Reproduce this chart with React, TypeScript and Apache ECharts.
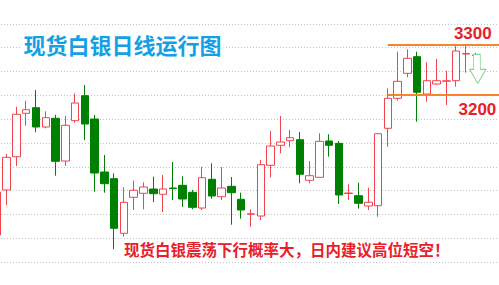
import React, { useEffect, useRef } from "react";
import * as echarts from "echarts";

// Daily silver K-line: [open, close, low, high] split into parallel arrays
const opens = [
  2920, 3010, 3076.6, 3163.4, 3174.6, 3136, 3153.4, 3068, 3148.6, 3198.6,
  3152, 3046, 3032.6, 2923.4, 2995.4, 3003.4, 3012, 3001.4, 3014, 3019.4,
  3005.4, 2974, 3031.4, 2996.6, 3017.4, 2991.4, 2961.4, 2958, 3059.4, 3099.4,
  3108.6, 3110.6, 3029.4, 3035.4, 3108, 3103.4, 3003, 2998.6, 2978, 2978.6,
  3133.4, 3193.4, 3243.4, 3276.6, 3202, 3222, 3227.6, 3228.6, 3282, 3278.8,
];
const closes = [
  3006, 3075.4, 3161.4, 3170.6, 3136, 3154.6, 3067.4, 3139.4, 3184, 3142,
  3044, 3022.6, 2933.4, 2985.4, 3009.4, 3016, 3002.6, 3012, 3012.8, 2992,
  2975.4, 3034.6, 2998, 3014, 3004.6, 2970, 2962.4, 3060.6, 3098, 3106,
  3114.6, 3041.4, 3038.6, 3107.4, 3099.4, 3000, 3004, 2983.4, 2985.4, 3122.6,
  3193.4, 3227.4, 3273.4, 3205.4, 3228.6, 3228.6, 3228.4, 3288, 3283, 3280,
];
const lows = [
  2915, 2980, 3058, 3138.6, 3125.4, 3133.4, 3038.6, 3058, 3144.6, 3110,
  3006.6, 3004.6, 2891.4, 2916.6, 2970, 2971.4, 2986, 2966, 2990, 2976,
  2971.4, 2970, 2992.6, 2990, 2940.6, 2952.6, 2936.6, 2950, 3035.4, 3083.4,
  3095.4, 3023.4, 3023.4, 3034.6, 3076.6, 2982, 2990, 2972.6, 2970, 2956.6,
  3096.6, 3188.6, 3235.4, 3146.6, 3186.6, 3220.6, 3180, 3216.6, 3244.6, 3276.6,
];
const highs = [
  3010, 3082, 3176.6, 3188.6, 3210, 3167.4, 3160.6, 3158, 3203.4, 3220,
  3160, 3080, 3043.4, 3015.4, 3028.6, 3025.4, 3036.6, 3040, 3066, 3037.4,
  3010, 3056.6, 3063.4, 3056, 3036, 3004.6, 2971.4, 3070, 3128, 3158,
  3130, 3126, 3068, 3123.4, 3121.4, 3108, 3021.4, 3024.6, 3014.6, 3124,
  3213.4, 3286.6, 3291.4, 3286.6, 3265.4, 3272, 3248.6, 3298, 3298, 3284.6,
];

// Trading days on the x axis (three empty slots on the right)
const days = Array.from({ length: 53 }, (_, i) => `D${i + 1}`);

// Resistance / support levels
const resistance = 3300;
const support = 3200;
const levelStartDay = 40;
const levelEndDay = 52;

// Expected pull-back marker after the last candle
const arrowDay = 49;
const arrowLevel = 3252.4;

const title = "现货白银日线运行图";
const note = "现货白银震荡下行概率大，日内建议高位短空！";

const RED = "#f2434f";
const GREEN = "#008000";
const ORANGE = "#f7832f";
const CJK = "'Noto Sans CJK SC', 'Noto Sans', sans-serif";
const LATIN = "'Liberation Sans', Arial, sans-serif";

// The chart canvas starts 8px left of the page so the first candle is cut off
const SHIFT = 8;

export default function App() {
  const ref = useRef<HTMLDivElement>(null);

  useEffect(() => {
    if (!ref.current) return;
    const chart = echarts.init(ref.current, undefined, { renderer: "svg" });
    const kdata = opens.map((o, i) => [o, closes[i], lows[i], highs[i]]);

    const levelLabel = (offset: number[]) => ({
      show: true,
      formatter: "{c}",
      offset,
      fontFamily: LATIN,
      fontSize: 17,
      fontWeight: "bold",
      color: "#e8202a",
    });

    chart.setOption({
      animation: false,
      backgroundColor: "#ffffff",
      title: [
        {
          text: title,
          left: 21.5 + SHIFT,
          top: 32,
          padding: [0, 2],
          backgroundColor: "#ffffff",
          textStyle: {
            fontFamily: CJK,
            fontSize: 22,
            fontWeight: "bold",
            color: "#14a0e6",
            lineHeight: 24,
          },
        },
        {
          text: note,
          left: 124 + SHIFT,
          top: 239.5,
          padding: 0,
          textStyle: {
            fontFamily: CJK,
            fontSize: 15.5,
            fontWeight: "bold",
            color: "#e8202a",
            lineHeight: 18,
          },
        },
      ],
      grid: { left: 0, right: 0, top: 0, bottom: 0 },
      xAxis: {
        type: "category",
        data: days,
        show: false,
        boundaryGap: true,
      },
      yAxis: [
        { type: "value", min: 2818, max: 3390, show: false, splitLine: { show: false } },
        {
          type: "value",
          min: 0,
          max: 12,
          interval: 1,
          axisLine: { show: false },
          axisTick: { show: false },
          axisLabel: { show: false },
          splitLine: {
            show: true,
            showMinLine: false,
            showMaxLine: false,
            lineStyle: { color: "#c4c4c4", type: [1, 2], width: 1 },
          },
        },
      ],
      series: [
        {
          type: "candlestick",
          yAxisIndex: 0,
          data: kdata,
          barWidth: 8,
          itemStyle: {
            color: "#ffffff",
            color0: GREEN,
            borderColor: RED,
            borderColor0: GREEN,
            borderWidth: 1,
          },
          markLine: {
            silent: true,
            symbol: "none",
            label: { show: false },
            lineStyle: { color: ORANGE, width: 2, type: "solid" },
            data: [
              [
                { coord: [levelStartDay, resistance] },
                { coord: [levelEndDay, resistance] },
              ],
              [
                { coord: [levelStartDay, support] },
                { coord: [levelEndDay, support] },
              ],
            ],
          },
          markPoint: {
            silent: true,
            data: [
              {
                coord: [arrowDay, resistance],
                value: resistance,
                symbolSize: 0,
                label: levelLabel([-3, -11.5]),
              },
              {
                coord: [arrowDay, support],
                value: support,
                symbolSize: 0,
                label: levelLabel([1.6, 14]),
              },
              {
                coord: [arrowDay, arrowLevel],
                symbol: "path://M4,0L10.7,0L10.7,15L16.4,15L8.2,29L0,15L4,15Z",
                symbolSize: [16.4, 29],
                symbolOffset: [2, 0],
                itemStyle: { color: "#ffffff", borderColor: "#7fd68f", borderWidth: 1 },
                label: { show: false },
              },
            ],
          },
        },
      ],
    });

    return () => chart.dispose();
  }, []);

  return (
    <div
      ref={ref}
      style={{ position: "fixed", left: -SHIFT, top: 0, width: 518, height: 286 }}
    />
  );
}
